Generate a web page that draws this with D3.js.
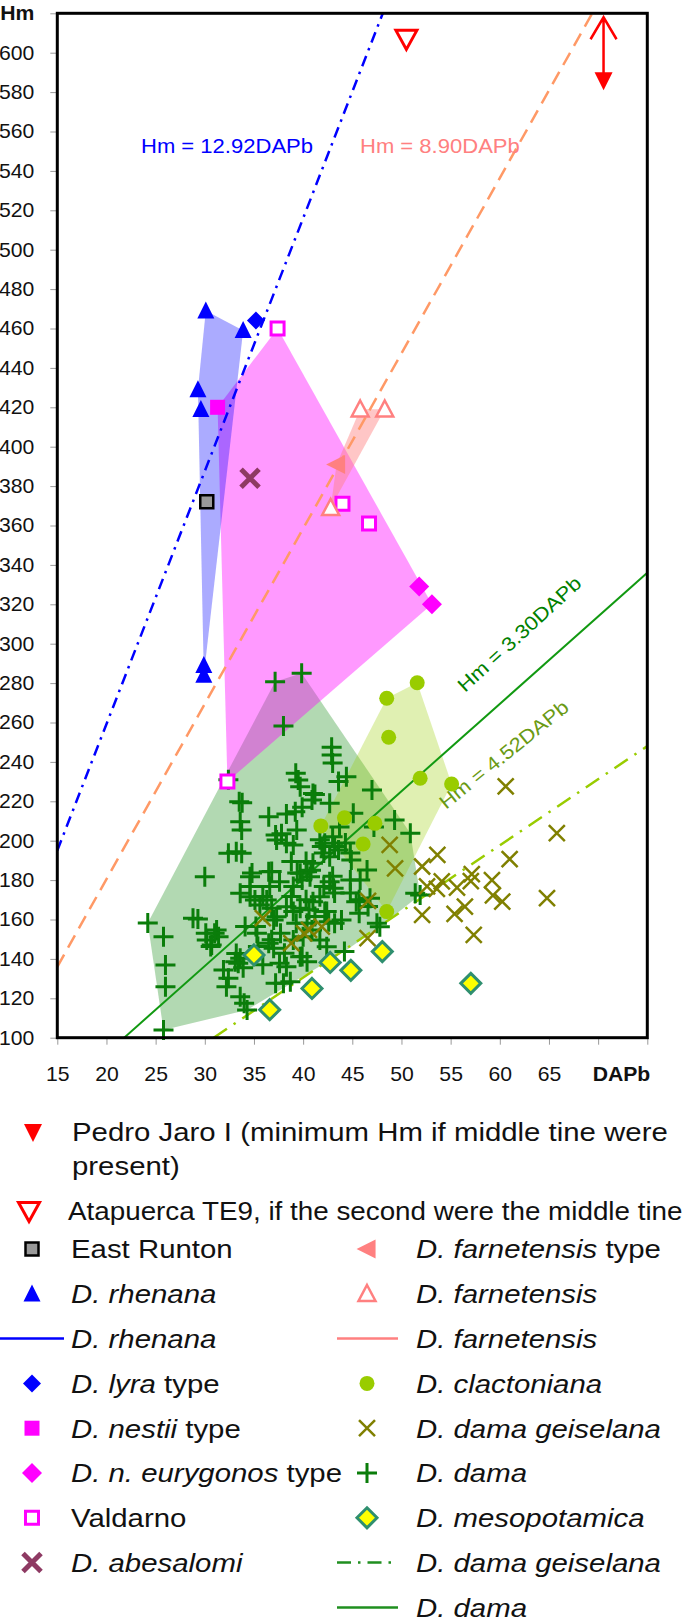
<!DOCTYPE html>
<html><head><meta charset="utf-8">
<script src="https://cdn.jsdelivr.net/npm/d3@7"></script>
<style>
body{margin:0;background:#fff}
svg{display:block}
text{font-family:"Liberation Sans",Arial,Helvetica,sans-serif}
</style>
</head><body>
<svg id="chart" width="685" height="1621"></svg>
<script>
// ---------------- DATA ----------------
const xTickValues = [15,20,25,30,35,40,45,50,55,60,65,70,75];
const xTickLabels = ["15","20","25","30","35","40","45","50","55","60","65","",""];
const yTickValues = [100,120,140,160,180,200,220,240,260,280,300,320,340,360,380,400,420,440,460,480,500,520,540,560,580,600,620];
const xTitle = "DAPb";
const yTitle = "Hm";

const pedroJaro = [[70.55, 586]];
const pedroJaroArrowTop = [618];
const atapuerca = [[50.5, 607]];
const eastRunton = [[30.2, 372]];
const rhenana = [[30.1,469],[33.9,459],[29.3,429],[29.6,419],[29.9,289],[29.9,284]];
const lyraType = [[35.2,464]];
const nestiiType = [[31.3,420]];
const eurygonosType = [[51.8,329],[53.1,320]];
const valdarno = [[37.4,460],[44.0,371],[46.7,361],[32.3,230]];
const abesalomi = [[34.6,384]];
const farnetensisType = [[43.4,391]];
const farnetensis = [[45.8,419],[48.3,419],[42.8,369]];
const clactoniana = [[48.5,272.3],[51.6,280.2],[48.7,252.5],[51.9,231.7],[55.1,228.8],[44.2,211.6],[47.3,208.8],[41.8,207.5],[46.1,198.3],[48.5,164.0]];
const damaGeiselana = [[60.6,227.6],[65.8,203.9],[61.0,190.7],[48.8,197.9],[49.35,186],[53.65,192.8],[52.1,186.9],[52.6,176.8],[53.6,175.5],[54.1,179.3],[55.65,176.2],[57.05,179.5],[57.15,183],[59.2,180],[59.3,172.2],[60.25,169.1],[64.8,170.9],[55.4,162.8],[56.45,166.5],[52.1,162.4],[57.35,152.2],[35.9,160.7],[38.8,148],[40.1,153],[40.6,154.7],[41.9,156.4],[46.55,150.5],[46.6,169.5]];
const mesopotamica = [[35.0,142],[36.6,114.2],[40.9,125],[42.75,138.2],[44.85,134.2],[48.05,143.7],[57.05,127.6]];
const dama = [
 [37.15,280.7],[39.85,285],[38.0,258.2],[42.9,247.5],[42.9,243.5],[43.0,239.5],[39.25,234.2],[39.5,230.8],[39.7,227.4],[41.0,224],
 [40.9,220.7],[43.6,230],[44.4,232.5],[33.5,219.8],[33.8,219.3],[33.6,209.6],[36.5,212.2],[38.3,213.5],[39.2,214.7],[39.35,205.4],
 [37.2,202.9],[37.8,203.5],[41.2,223.4],[47.0,225.7],[42.7,219],[39.9,217],[43.7,207],[45.1,213.9],[49.3,210.5],[50.9,203.8],
 [47.2,207],[41.7,200.5],[41.9,197],[42.1,193.7],[43.0,202],[43.2,197],[44.3,198.8],[44.8,193.7],[32.4,231],[33.75,205.4],
 [32.4,193.6],[33.2,194.4],[33.75,193.6],[37.3,200.4],[38.3,198.7],[39.0,197.8],[42.2,198.7],[42.7,191.9],[43.6,195.3],[44.9,190.2],
 [30.0,181.7],[39.7,183.5],[40.4,184.3],[41.0,188.5],[40.7,181.7],[34.6,181.7],[34.6,176.7],[36.5,184.3],[37.6,179.2],[42.7,179.2],
 [43.1,175.8],[33.6,173.3],[34.6,171.6],[35.1,169.9],[35.6,167.4],[36.3,169.9],[36.8,165.7],[37.3,161.4],[37.0,159.7],[38.3,166.5],
 [39.0,164],[39.7,165.7],[41.0,169],[41.7,171.6],[42.2,164],[42.6,158.9],[43.2,158.1],[39.4,183.6],[39.9,180],[40.8,185],
 [42.1,176.8],[43.0,181.9],[43.2,173.4],[44.8,180],[44.8,173.4],[45.7,170],[45.7,163.2],[46.6,166.6],[43.9,159.8],[40.6,164.9],
 [41.2,161.5],[47.5,158.1],[47.8,156.3],[51.4,173.3],[51.9,172.4],[36.6,176.8],[39.0,176.8],[38.8,171.7],[40.3,170],[35.9,171.7],
 [45.4,169],[46.8,170.8],[45.8,180],[46.5,185.1],[38.8,189.5],[40.3,189.5],[36.8,184.4],[34.8,183.6],
 [24.2,158.2],[25.8,151.3],[28.8,160.6],[29.3,160.2],[31.2,154.7],[31.4,151.3],[30.2,149.6],[30.7,147],[26.0,136.9],[26.0,125.9],
 [25.8,103.9],[33.2,142.8],[33.6,140.3],[33.1,138.6],[33.4,137.8],[31.9,134.4],[32.4,130.2],[32.2,125.9],[33.6,120.8],[34.0,117.5],
 [34.3,114.1],[36.5,147.9],[37.0,145.4],[35.3,153],[37.6,137.8],[38.3,136],[38.0,127.6],[38.7,128.4],[39.7,141.1],[40.4,138.6],
 [39.0,149.6],[40.0,151.3],[41.7,149.6],[42.4,146.2],[39.3,158.1],[40.4,158.1],[40.9,154.7],[44.2,143.7],[34.1,156.4],[35.2,156.4],
 [30.1,153],[31.0,153],[30.6,146.3],[35.9,137],[35.4,146.3],[37.2,127.6],[38.1,142.9],[39.9,141.2],[36.8,149.7],[37.7,153],
 [42.4,164],[33.9,135.5]
];

// regression lines (endpoints)
const lineRhenana = [[15,195],[48.1,620]];
const lineFarnetensis = [[15,136],[69.4,620]];
const lineDama = [[21.8,100],[75,336]];
const lineDamaGeiselana = [[30.9,100],[75,248]];

const eqLabels = ["Hm = 12.92DAPb","Hm = 8.90DAPb","Hm = 3.30DAPb","Hm = 4.52DAPb"];

// ---------------- CHART ----------------
const SX = 1.13; // horizontal stretch of the original lettering
const svg = d3.select("#chart");
const x = d3.scaleLinear().domain([15,75]).range([57.3,647.3]);
const y = d3.scaleLinear().domain([100,620]).range([1037.7,13.3]);

const C = {
  blue:"#0000ff", magenta:"#ff00ff", salmon:"#ff8080", orange:"#ff9966",
  green:"#0a7d0a", lime:"#99cc00", olive:"#808000", red:"#ff0000",
  abes:"#8e3a63", teal:"#2f8f6f"
};

svg.append("clipPath").attr("id","plotclip").append("rect")
  .attr("x",x(15)).attr("y",y(620)).attr("width",x(75)-x(15)).attr("height",y(100)-y(620));

// axes
const yAxis = d3.axisLeft(y).tickValues(yTickValues).tickSize(7).tickPadding(16)
  .tickFormat(d => d===620 ? yTitle : d);
const gy = svg.append("g").attr("transform",`translate(${x(15)},0)`).call(yAxis);
gy.select(".domain").remove();
gy.selectAll(".tick line").attr("stroke","#999");
gy.selectAll(".tick text").attr("font-size",20).attr("fill","#111")
  .attr("font-family",'"Liberation Sans",Arial,sans-serif')
  .attr("x",-23/1.06).attr("transform","scale(1.06,1)")
  .attr("font-weight",d => d===620 ? "bold" : "normal");

const xAxis = d3.axisBottom(x).tickValues(xTickValues).tickSize(7).tickPadding(22)
  .tickFormat((d,i) => xTickLabels[i]);
const gx = svg.append("g").attr("transform",`translate(0,${y(100)})`).call(xAxis);
gx.select(".domain").remove();
gx.selectAll(".tick line").attr("stroke","#999");
gx.selectAll(".tick text").attr("font-size",20).attr("fill","#111")
  .attr("font-family",'"Liberation Sans",Arial,sans-serif').attr("transform","scale(1.06,1)");
svg.append("text").attr("transform",`translate(${x(75)+3},${y(100)+29}) scale(1.06,1)`).attr("dy","0.71em")
  .attr("text-anchor","end").attr("font-size",20).attr("font-weight","bold").attr("fill","#111").text(xTitle);

// hulls
const plot = svg.append("g").attr("clip-path","url(#plotclip)");
function hull(pts, fill, op){
  const h = d3.polygonHull(pts.map(p => [x(p[0]), y(p[1])]));
  plot.append("path").attr("d","M"+h.join("L")+"Z").attr("fill",fill).attr("fill-opacity",op);
}
hull(dama, "#008000", 0.3);
hull(clactoniana, C.lime, 0.3);
hull(valdarno.concat(nestiiType, eurygonosType), C.magenta, 0.4);
hull(rhenana, C.blue, 0.33);
hull(farnetensis.concat(farnetensisType), C.salmon, 0.45);

// lines
const lg = d3.line().x(d => x(d[0])).y(d => y(d[1]));
plot.append("path").attr("d",lg(lineRhenana)).attr("stroke",C.blue).attr("stroke-width",2.5).attr("fill","none").attr("stroke-dasharray","11,6,2.5,6");
plot.append("path").attr("d",lg(lineFarnetensis)).attr("stroke",C.orange).attr("stroke-width",2.5).attr("fill","none").attr("stroke-dasharray","14,8");
plot.append("path").attr("d",lg(lineDama)).attr("stroke","#119911").attr("stroke-width",2).attr("fill","none");
plot.append("path").attr("d",lg(lineDamaGeiselana)).attr("stroke",C.lime).attr("stroke-width",2.5).attr("fill","none").attr("stroke-dasharray","16,8,2.5,8");

// equation labels
function eq(tx, ty, rot, color, txt){
  svg.append("text").attr("transform",`translate(${tx},${ty}) rotate(${rot}) scale(${SX},1)`)
    .attr("font-size",19.5).attr("fill",color).text(txt);
}
eq(141,153,0,C.blue,eqLabels[0]);
eq(360,153,0,C.salmon,eqLabels[1]);
eq(465,693,-42.5,"#008000",eqLabels[2]);
eq(446,810,-39,"#6a9a14",eqLabels[3]);

// symbol paths
function tri(w,h,dir){ // dir: up, down, left
  if(dir==="up") return `M0,${-h*0.55}L${w/2},${h*0.45}L${-w/2},${h*0.45}Z`;
  if(dir==="down") return `M0,${h*0.55}L${w/2},${-h*0.45}L${-w/2},${-h*0.45}Z`;
  return `M${-h*0.55},0L${h*0.45},${-w/2}L${h*0.45},${w/2}Z`;
}
const sq = s => `M${-s/2},${-s/2}h${s}v${s}h${-s}Z`;
const dia = r => `M0,${-r}L${r},0L0,${r}L${-r},0Z`;
const plus = h => `M${-h},0H${h}M0,${-h}V${h}`;
const cross = h => `M${-h},${-h}L${h},${h}M${-h},${h}L${h},${-h}`;
const circ = r => d3.symbol(d3.symbolCircle, Math.PI*r*r)();

const STY = {
  pedro:{d:tri(18,18,"down"), fill:C.red, stroke:"none", sw:0},
  atap:{d:tri(21,19,"down"), fill:"#fff", stroke:C.red, sw:3},
  east:{d:sq(13), fill:"#999", stroke:"#000", sw:2.5},
  rhen:{d:tri(17,17,"up"), fill:C.blue, stroke:"none", sw:0},
  lyra:{d:dia(9), fill:C.blue, stroke:"none", sw:0},
  nest:{d:sq(15), fill:C.magenta, stroke:"none", sw:0},
  eury:{d:dia(10), fill:C.magenta, stroke:"none", sw:0},
  vald:{d:sq(13), fill:"#fff", stroke:C.magenta, sw:3},
  abes:{d:cross(9), fill:"none", stroke:C.abes, sw:5},
  farnT:{d:tri(19,19,"left"), fill:C.salmon, stroke:"none", sw:0},
  farn:{d:tri(17,16,"up"), fill:"#fff", stroke:C.salmon, sw:2.5},
  clac:{d:circ(7.5), fill:C.lime, stroke:"none", sw:0},
  geis:{d:cross(8), fill:"none", stroke:C.olive, sw:2.5},
  dama:{d:plus(10), fill:"none", stroke:C.green, sw:3},
  meso:{d:dia(10), fill:"#ffff00", stroke:C.teal, sw:3}
};
function pts(data, key, g){
  const s = STY[key];
  g.selectAll(null).data(data).enter().append("path")
    .attr("transform",d => `translate(${x(d[0])},${y(d[1])})`)
    .attr("d",s.d).attr("fill",s.fill).attr("stroke",s.stroke).attr("stroke-width",s.sw);
}
const ptsG = svg.append("g");
pts(dama,"dama",ptsG);
pts(clactoniana,"clac",ptsG);
pts(damaGeiselana,"geis",ptsG);
pts(mesopotamica,"meso",ptsG);
pts(rhenana,"rhen",ptsG);
pts(lyraType,"lyra",ptsG);
pts(nestiiType,"nest",ptsG);
pts(eurygonosType,"eury",ptsG);
pts(valdarno,"vald",ptsG);
pts(eastRunton,"east",ptsG);
pts(abesalomi,"abes",ptsG);
pts(farnetensis,"farn",ptsG);
pts(farnetensisType,"farnT",ptsG);
pts(atapuerca,"atap",ptsG);
pts(pedroJaro,"pedro",ptsG);

// Pedro Jaro arrow
const px = x(pedroJaro[0][0]), pyTop = y(pedroJaroArrowTop[0]);
ptsG.append("path").attr("d",`M${px},${y(pedroJaro[0][1])}V${pyTop}M${px-13},${pyTop+22}L${px},${pyTop}L${px+13},${pyTop+22}`)
  .attr("stroke",C.red).attr("stroke-width",2.5).attr("fill","none");

// frame
svg.append("rect").attr("x",x(15)).attr("y",y(620)).attr("width",x(75)-x(15)).attr("height",y(100)-y(620))
  .attr("fill","none").attr("stroke","#000").attr("stroke-width",3);

// ---------------- LEGEND ----------------
const LF = 26;
const leg = svg.append("g").attr("font-size",LF).attr("fill","#111");
function legText(xp, yc, parts, sx){
  const t = leg.append("text").attr("transform",`translate(${xp},${yc+LF*0.36}) scale(${sx||SX},1)`);
  parts.forEach(p => t.append("tspan").attr("font-style",p[1]?"italic":"normal").text(p[0]));
}
function legSym(key, xc, yc){
  const s = STY[key];
  leg.append("path").attr("transform",`translate(${xc},${yc})`).attr("d",s.d)
    .attr("fill",s.fill).attr("stroke",s.stroke).attr("stroke-width",s.sw);
}
function legLine(x1, x2, yc, color, dash){
  leg.append("line").attr("x1",x1).attr("x2",x2).attr("y1",yc).attr("y2",yc)
    .attr("stroke",color).attr("stroke-width",2.5).attr("stroke-dasharray",dash||null);
}
const leftItems = [
  {k:"east", p:[["East Runton",0]]},
  {k:"rhen", p:[["D. rhenana",1]]},
  {line:C.blue, p:[["D. rhenana",1]]},
  {k:"lyra", p:[["D. lyra",1],[" type",0]]},
  {k:"nest", p:[["D. nestii",1],[" type",0]]},
  {k:"eury", p:[["D. n. eurygonos",1],[" type",0]]},
  {k:"vald", p:[["Valdarno",0]]},
  {k:"abes", p:[["D. abesalomi",1]]}
];
const rightItems = [
  {k:"farnT", p:[["D. farnetensis",1],[" type",0]]},
  {k:"farn", p:[["D. farnetensis",1]]},
  {line:C.salmon, p:[["D. farnetensis",1]]},
  {k:"clac", p:[["D. clactoniana",1]]},
  {k:"geis", p:[["D. dama geiselana",1]]},
  {k:"dama", p:[["D. dama",1]]},
  {k:"meso", p:[["D. mesopotamica",1]]},
  {line:"#1f8f1f", dash:"14,7,2.5,7", p:[["D. dama geiselana",1]]},
  {line:"#1f8f1f", p:[["D. dama",1]]}
];
// top two entries
legSym("pedro", 33, 1132);
legText(72, 1132, [["Pedro Jaro I (minimum Hm if middle tine were",0]]);
legText(72, 1166, [["present)",0]]);
legSym("atap", 29, 1211);
legText(68, 1211, [["Atapuerca TE9, if the second were the middle tine",0]], 1.07);
leftItems.forEach((it,i) => {
  const yc = 1249 + 44.8*i;
  if(it.line) legLine(0, 64, yc, it.line, it.dash); else legSym(it.k, 32, yc);
  legText(71, yc, it.p);
});
rightItems.forEach((it,i) => {
  const yc = 1249 + 44.8*i;
  if(it.line) legLine(337, 398, yc, it.line, it.dash); else legSym(it.k, 367, yc);
  legText(416, yc, it.p);
});
</script>
</body></html>
